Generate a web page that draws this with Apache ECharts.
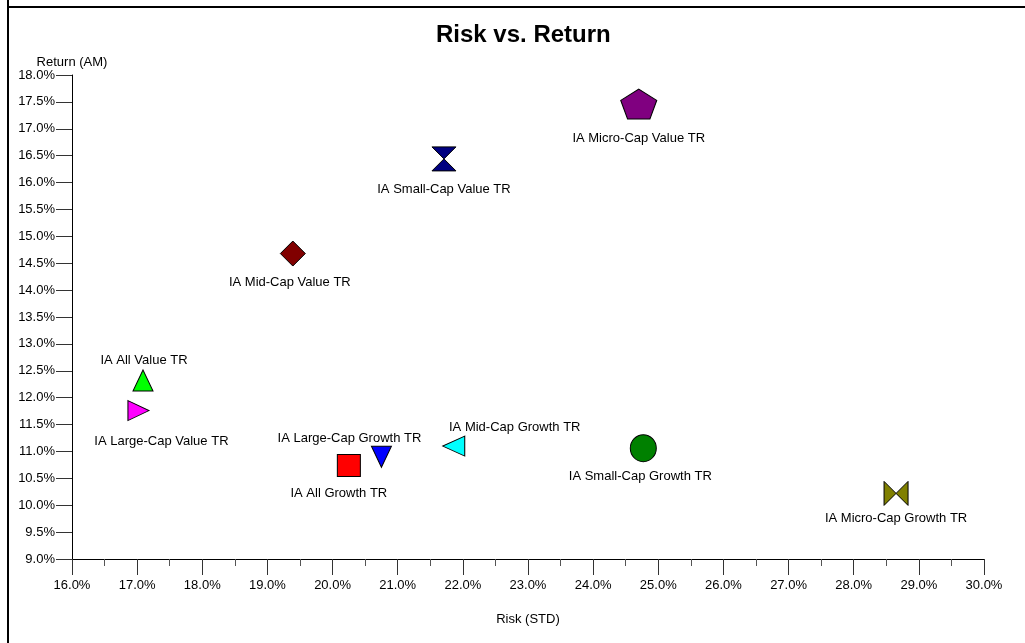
<!DOCTYPE html>
<html>
<head>
<meta charset="utf-8">
<script src="https://cdn.jsdelivr.net/npm/echarts@6/dist/echarts.min.js"></script>
<style>
html,body{margin:0;padding:0;background:#fff;}
#chart{width:1025px;height:643px;}
</style>
</head>
<body>
<div id="chart"></div>
<script>
// ---- Data ----
var names = ['IA All Value TR','IA Large-Cap Value TR','IA All Growth TR','IA Large-Cap Growth TR','IA Mid-Cap Growth TR','IA Small-Cap Growth TR','IA Micro-Cap Growth TR','IA Mid-Cap Value TR','IA Small-Cap Value TR','IA Micro-Cap Value TR'];
var risk = [17.09, 17.02, 20.25, 20.75, 21.86, 24.77, 28.65, 19.39, 21.71, 24.70];
var ret  = [12.32, 11.76, 10.74, 10.90, 11.10, 11.06, 10.22, 14.68, 16.44, 17.46];

// ---- Styles (marker shapes, colours, label offsets) ----
var colors = ['#00FF00','#FF00FF','#FF0000','#0000FF','#00FFFF','#008000','#808000','#800000','#000080','#800080'];
var symbols = [
  'triangle',
  'path://M0,0 L20,10 L0,20 Z',
  'rect',
  'path://M0,0 L20,0 L10,20 Z',
  'path://M20,0 L0,10 L20,20 Z',
  'circle',
  'path://M0,0 L12,12 L0,24 Z M24,0 L12,12 L24,24 Z',
  'diamond',
  'path://M0,0 L24,0 L12,12 Z M0,24 L24,24 L12,12 Z',
  'path://M50,0 L97.55,34.55 L79.39,90.45 L20.61,90.45 L2.45,34.55 Z'
];
var sizes = [[20,21],[21,20],[23,22],[20,21],[22,20],[26,27],[24,24],[25,25],[24,24],[36,30]];
var labelOffsets = [[1,-20],[23,31],[-10,28],[-32,-18],[61,-19],[-3,28],[0,25],[-3,29],[0,31],[0,34]];

var series = names.map(function(n,i){
  return {
    name: n,
    type: 'scatter',
    data: [[risk[i], ret[i]]],
    symbol: symbols[i],
    symbolSize: sizes[i],
    itemStyle: {color: colors[i], borderColor: '#000', borderWidth: 1, opacity: 1},
    label: {
      show: true, position: 'inside', offset: labelOffsets[i],
      formatter: n, color: '#000', fontSize: 13, fontFamily: 'Liberation Sans, Arial, sans-serif'
    },
    emphasis: {disabled: true},
    animation: false
  };
});

var chart = echarts.init(document.getElementById('chart'), null, {renderer:'canvas'});
chart.setOption({
  backgroundColor: '#fff',
  animation: false,
  title: {
    text: 'Risk vs. Return', left: 431, top: 18,
    textStyle: {fontSize: 24, fontWeight: 'bold', color: '#000', fontFamily: 'Liberation Sans, Arial, sans-serif'}
  },
  graphic: [
    {type:'line', shape:{x1:8, y1:0, x2:8, y2:643}, style:{stroke:'#000', lineWidth:2}},
    {type:'line', shape:{x1:7, y1:7, x2:1025, y2:7}, style:{stroke:'#000', lineWidth:2}}
  ],
  grid: {left: 72, right: 41, top: 75, bottom: 84, containLabel: false},
  xAxis: {
    type: 'value', min: 16, max: 30, interval: 1,
    name: 'Risk (STD)', nameLocation: 'middle', nameGap: 54,
    nameTextStyle: {fontSize: 13, color: '#000', fontFamily: 'Liberation Sans, Arial, sans-serif'},
    axisLine: {show: true, onZero: false, lineStyle: {color: '#000', width: 1}},
    axisTick: {show: true, inside: false, length: 16, lineStyle: {color: '#333'}},
    minorTick: {show: true, splitNumber: 2, length: 7, lineStyle: {color: '#555'}},
    splitLine: {show: false},
    axisLabel: {margin: 20, fontSize: 13, color: '#000', fontFamily: 'Liberation Sans, Arial, sans-serif',
      formatter: function(v){ return v.toFixed(1) + '%'; }}
  },
  yAxis: {
    type: 'value', min: 9, max: 18, interval: 0.5,
    name: 'Return (AM)', nameLocation: 'end', nameGap: 6,
    nameTextStyle: {fontSize: 13, color: '#000', fontFamily: 'Liberation Sans, Arial, sans-serif'},
    axisLine: {show: true, onZero: false, lineStyle: {color: '#000', width: 1}},
    axisTick: {show: true, inside: false, length: 16, lineStyle: {color: '#333'}},
    splitLine: {show: false},
    axisLabel: {margin: 17, fontSize: 13, color: '#000', fontFamily: 'Liberation Sans, Arial, sans-serif',
      formatter: function(v){ return v.toFixed(1) + '%'; }}
  },
  series: series
});
</script>
</body>
</html>
